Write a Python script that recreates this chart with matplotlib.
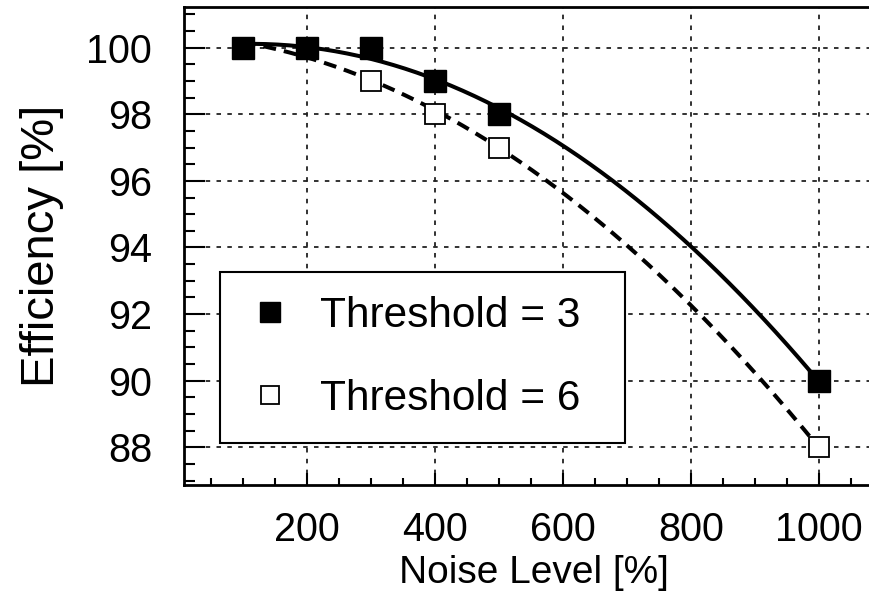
import numpy as np
import matplotlib
matplotlib.use("Agg")
import matplotlib.pyplot as plt
from matplotlib.ticker import MultipleLocator

plt.rcParams['font.family'] = ['Liberation Sans', 'DejaVu Sans']

# data
noise = [100, 200, 300, 400, 500, 1000]
eff_thr3 = [100, 100, 100, 99, 98, 90]
eff_thr6 = [100, 100, 99, 98, 97, 88]

x_ticks = [200, 400, 600, 800, 1000]
y_ticks = [88, 90, 92, 94, 96, 98, 100]

fig = plt.figure(figsize=(8.69, 6.10), dpi=100)
ax = fig.add_axes([184 / 869, 125 / 610, 699 / 869, 478 / 610])

# smooth trend curves: quadratic fit through the measured points
xs = np.linspace(min(noise), max(noise), 200)
fit3 = np.polyval(np.polyfit(noise, eff_thr3, 2), xs)
fit6 = np.polyval(np.polyfit(noise, eff_thr6, 2), xs)

ax.plot(xs, fit3, color='black', lw=2.9, solid_capstyle='butt', zorder=3)
ax.plot(xs, fit6, color='black', lw=2.9, dashes=(3.2, 2.0), zorder=3)

h6, = ax.plot(noise, eff_thr6, ls='none', marker='s', ms=15, mfc='white', mec='black',
              mew=1.3, zorder=4, label='Threshold = 6')
h3, = ax.plot(noise, eff_thr3, ls='none', marker='s', ms=16, mfc='black', mec='black',
              mew=1.0, zorder=5, label='Threshold = 3')

ax.set_xlim(8, 1100)
ax.set_ylim(86.87, 101.22)
ax.set_xticks(x_ticks)
ax.set_yticks(y_ticks)
ax.xaxis.set_minor_locator(MultipleLocator(50))
ax.yaxis.set_minor_locator(MultipleLocator(0.5))

ax.grid(True, which='major', color='#222222', lw=1.3, linestyle=(0, (2.5, 3.5)))

ax.tick_params(axis='both', which='both', direction='in', top=False, right=False,
               width=1.5, labelsize=28.5)
ax.tick_params(axis='y', which='major', length=15, pad=23)
ax.tick_params(axis='y', which='minor', length=8)
ax.tick_params(axis='x', which='major', length=9, pad=19)
ax.tick_params(axis='x', which='minor', length=5)

for s in ax.spines.values():
    s.set_linewidth(2.0)

ax.set_xlabel('Noise Level [%]', fontsize=28, labelpad=4)
ax.set_ylabel('Efficiency [%]', fontsize=34, labelpad=16)

leg = ax.legend(handles=[h3, h6], loc='lower left',
                bbox_to_anchor=(36 / 699, 42 / 478, 405 / 699, 176 / 478),
                mode='expand', fontsize=30.5,
                frameon=True, fancybox=False, borderpad=0.57, labelspacing=1.02,
                handlelength=1.2, handletextpad=0.6, markerscale=0.9,
                borderaxespad=0)
leg.get_frame().set_edgecolor('black')
leg.get_frame().set_linewidth(1.5)
leg.get_frame().set_alpha(1)

fig.savefig('out.png', dpi=100)
